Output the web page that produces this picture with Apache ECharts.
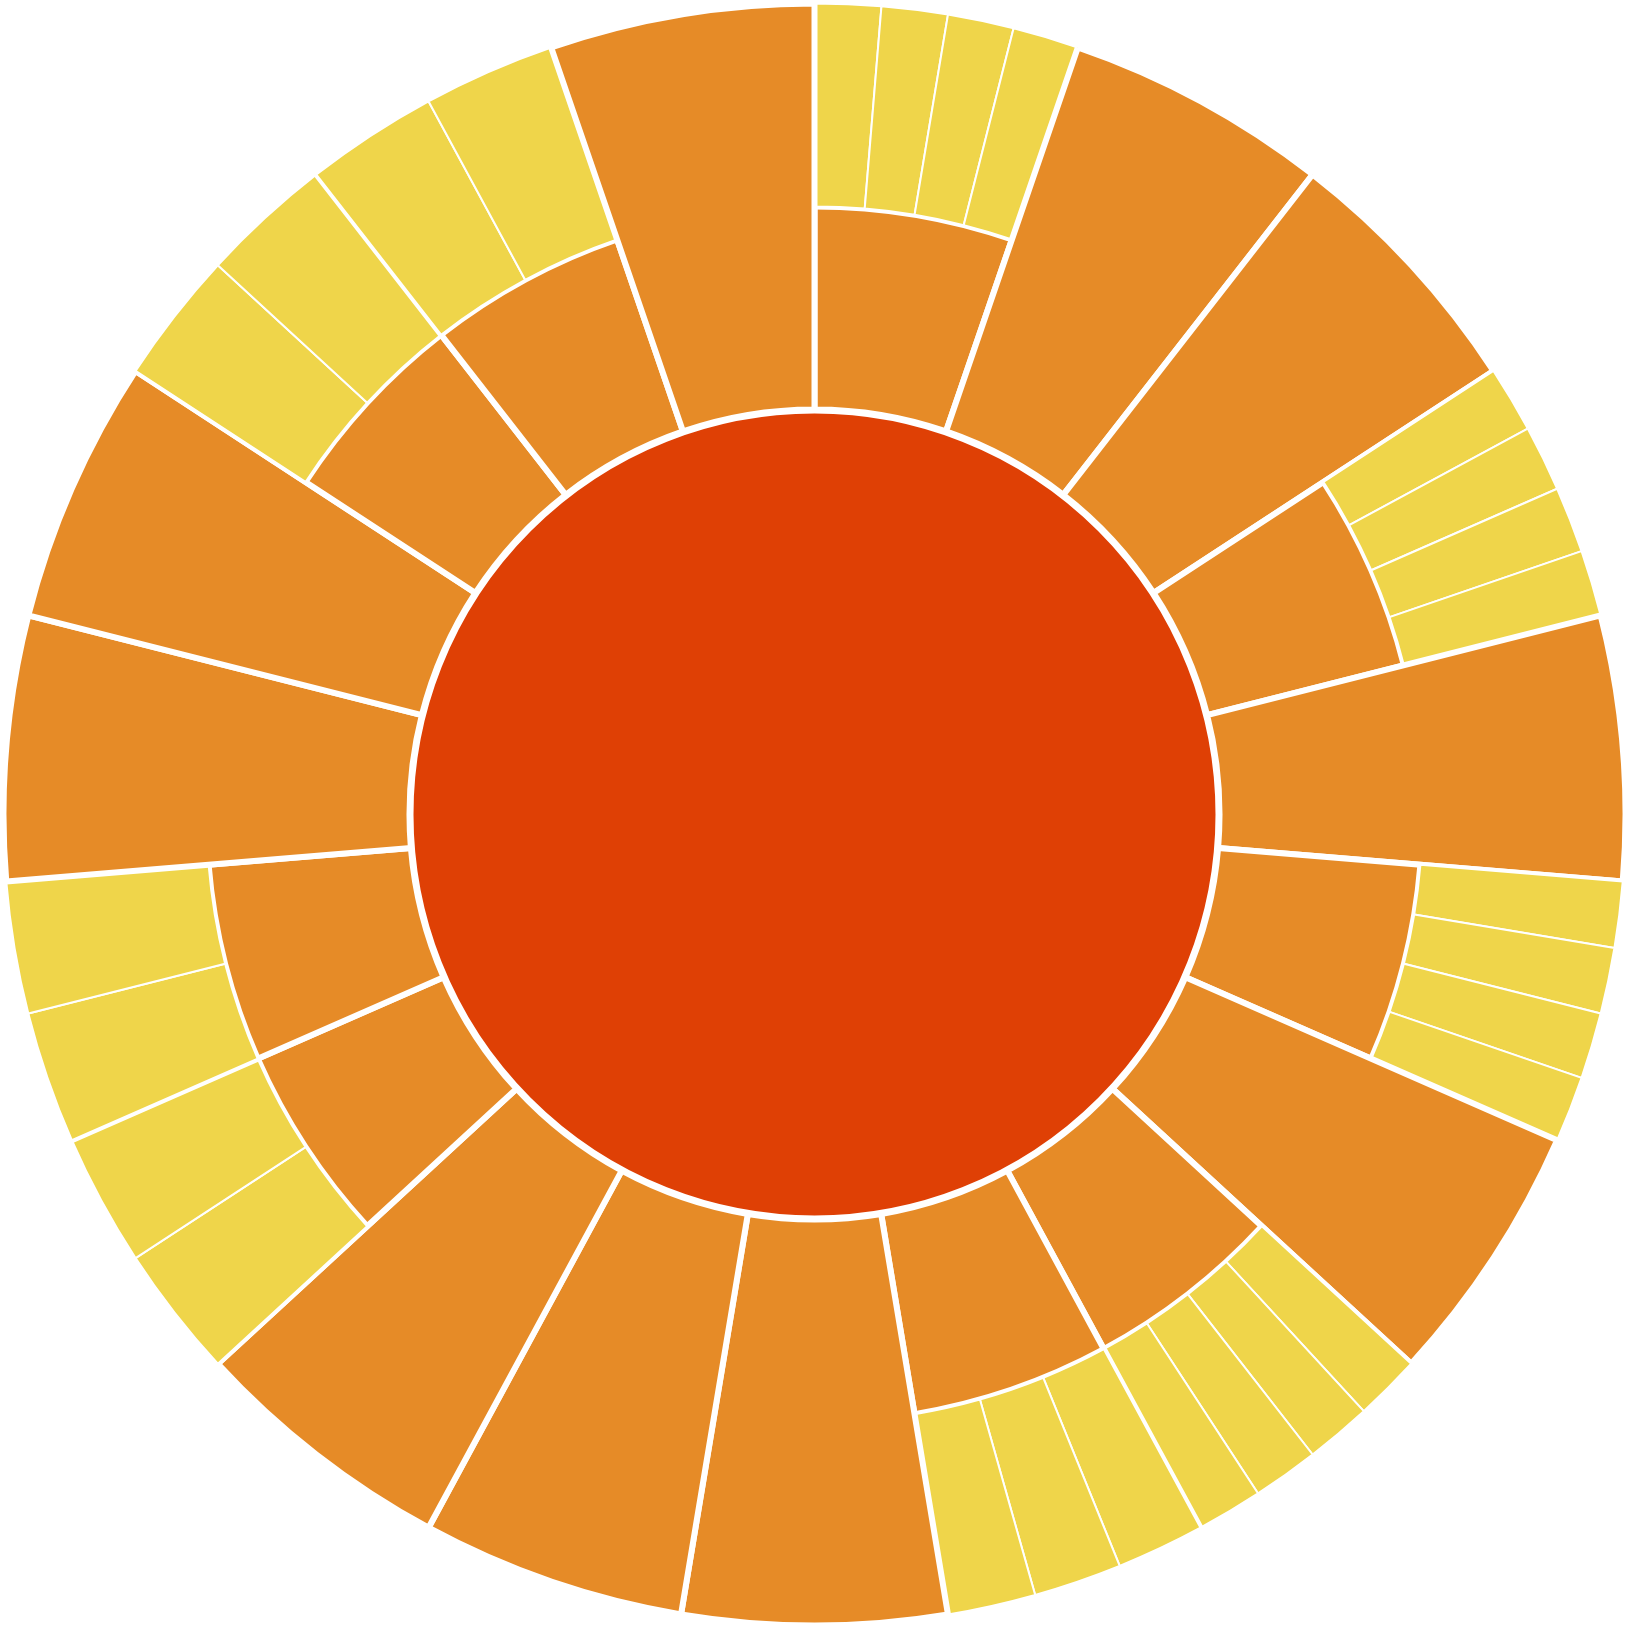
<!DOCTYPE html>
<html>
<head>
<meta charset="utf-8">
<script src="https://cdn.jsdelivr.net/npm/echarts@6/dist/echarts.min.js"></script>
<style>
html,body{margin:0;padding:0;background:#ffffff;}
#chart{width:1629px;height:1629px;}
</style>
</head>
<body>
<div id="chart"></div>
<script>
// ---- data (clockwise from 12 o'clock) ----
const rootName = 'Root';
const groupNames = ['A', 'B', 'C', 'D', 'E', 'F', 'G', 'H1', 'H2', 'I', 'J', 'K', 'L1', 'L2', 'M', 'N', 'O1', 'O2', 'P'];
const groupValues = [12, 12, 12, 12, 12, 12, 12, 12, 12, 12, 12, 12, 12, 12, 12, 12, 12, 12, 12];
const subValues = [
  [3, 3, 3, 3], // A
  [],           // B
  [],           // C
  [3, 3, 3, 3], // D
  [],           // E
  [3, 3, 3, 3], // F
  [],           // G
  [3, 3, 3, 3], // H1
  [4, 4, 4],    // H2
  [],           // I
  [],           // J
  [],           // K
  [6, 6],       // L1
  [6, 6],       // L2
  [],           // M
  [],           // N
  [6, 6],       // O1
  [6, 6],       // O2
  []            // P
];

function buildData() {
  const children = groupNames.map(function (name, i) {
    const node = { name: name, value: groupValues[i] };
    if (subValues[i].length) {
      node.children = [{
        name: name + ' sub',
        value: groupValues[i],
        children: subValues[i].map(function (v, j) {
          return { name: name + '-' + (j + 1), value: v };
        })
      }];
    }
    return node;
  });
  const total = groupValues.reduce(function (a, b) { return a + b; }, 0);
  return [{ name: rootName, value: total, children: children }];
}

const chart = echarts.init(document.getElementById('chart'), null, { renderer: 'canvas' });
chart.setOption({
  animation: false,
  backgroundColor: '#ffffff',
  series: [{
    type: 'sunburst',
    center: ['50%', '50%'],
    startAngle: 90,
    clockwise: true,
    sort: null,
    nodeClick: false,
    data: buildData(),
    label: { show: false },
    emphasis: { focus: 'none' },
    levels: [
      {},
      { r0: 0, r: 405, label: { show: false }, itemStyle: { color: '#DF4005', borderColor: '#ffffff', borderWidth: 8 } },
      { r0: 405, r: 811, label: { show: false }, itemStyle: { color: '#E68B27', borderColor: '#ffffff', borderWidth: 6 } },
      { r0: 605, r: 811, label: { show: false }, itemStyle: { color: '#ffffff', borderColor: '#ffffff', borderWidth: 0 } },
      { r0: 608, r: 811, label: { show: false }, itemStyle: { color: '#EFD54A', borderColor: '#ffffff', borderWidth: 2 } }
    ]
  }]
});
</script>
</body>
</html>
